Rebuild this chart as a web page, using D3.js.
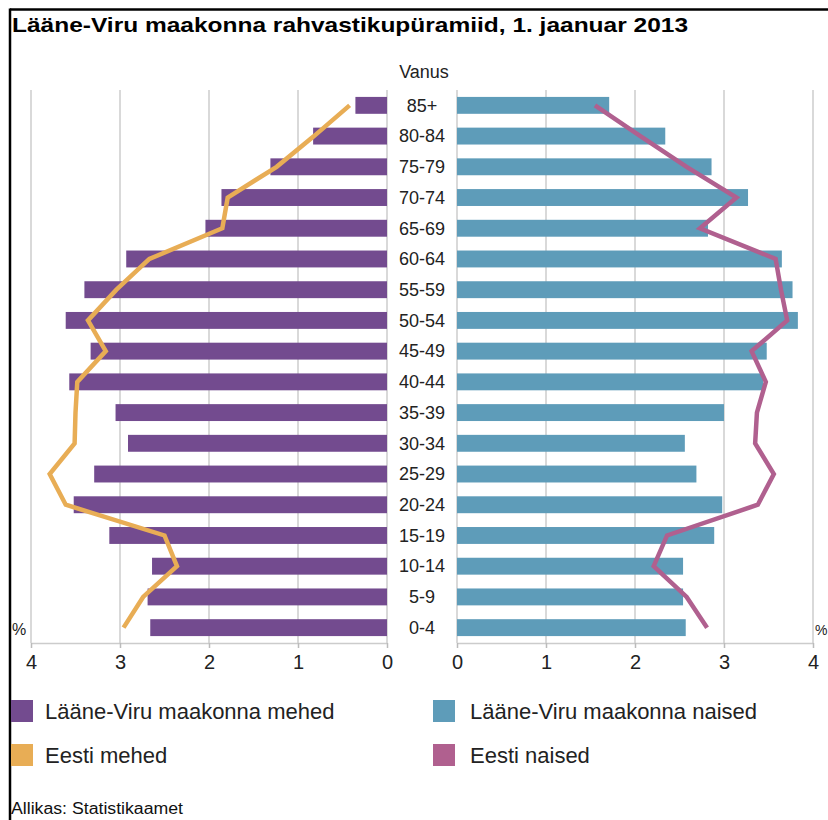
<!DOCTYPE html>
<html><head><meta charset="utf-8">
<script src="https://cdn.jsdelivr.net/npm/d3@7"></script>
<style>body{margin:0;background:#fff}svg{display:block;font-family:"Liberation Sans",Arial,sans-serif}</style>
</head><body>
<script>
const ages = ["0-4","5-9","10-14","15-19","20-24","25-29","30-34","35-39","40-44","45-49","50-54","55-59","60-64","65-69","70-74","75-79","80-84","85+"];
const menCounty   = [2.66,2.69,2.64,3.12,3.52,3.29,2.91,3.05,3.57,3.33,3.61,3.40,2.93,2.04,1.86,1.31,0.83,0.355];
const menEstonia  = [2.96,2.74,2.36,2.50,3.61,3.79,3.51,3.50,3.48,3.16,3.36,3.04,2.67,1.85,1.79,1.24,0.82,0.42];
const womenCounty = [2.57,2.54,2.54,2.89,2.98,2.69,2.56,3.00,3.44,3.48,3.83,3.77,3.65,2.82,3.27,2.86,2.34,1.71];
const womenEstonia= [2.81,2.58,2.21,2.36,3.38,3.56,3.35,3.37,3.47,3.31,3.71,3.64,3.58,2.73,3.14,2.58,2.06,1.55];
const ticks = [0,1,2,3,4];
const title = "Lääne-Viru maakonna rahvastikupüramiid, 1. jaanuar 2013";
const legendLabels = ["Lääne-Viru maakonna mehed","Lääne-Viru maakonna naised","Eesti mehed","Eesti naised"];
const colors = {men:"#734b8f", women:"#5e9cb9", menE:"#e8ad55", womenE:"#b0608f"};

const W=828,H=820;
const svg=d3.select("body").append("svg").attr("width",W).attr("height",H);

// frame
svg.append("line").attr("x1",10).attr("x2",W).attr("y1",9.5).attr("y2",9.5).attr("stroke","#000").attr("stroke-width",2.5);
svg.append("line").attr("x1",10).attr("x2",10).attr("y1",8.5).attr("y2",H).attr("stroke","#000").attr("stroke-width",2.5);

svg.append("text").attr("x",12).attr("y",32).attr("font-size",21).attr("font-weight","bold")
  .attr("textLength",676).attr("lengthAdjust","spacingAndGlyphs").text(title);

const plotTop=90,plotBottom=643;
const xL=d3.scaleLinear().domain([0,4]).range([387,31]);
const xR=d3.scaleLinear().domain([0,4]).range([457,813]);
const y=d3.scaleBand().domain(ages.slice().reverse()).range([plotTop,plotBottom]).paddingInner(0.45).paddingOuter(0.225);
const yc=a=>y(a)+y.bandwidth()/2;

// grid
[xL,xR].forEach(x=>{
  svg.append("g").selectAll("line").data(ticks).join("line")
    .attr("x1",d=>x(d)).attr("x2",d=>x(d)).attr("y1",plotTop).attr("y2",plotBottom)
    .attr("stroke","#cccccc").attr("stroke-width",1.5);
});

// axes
[xL,xR].forEach(x=>{
  const g=svg.append("g").attr("transform",`translate(0,${plotBottom})`)
    .call(d3.axisBottom(x).tickValues(ticks).tickFormat(d3.format("d")).tickSize(5).tickSizeOuter(0).tickPadding(7));
  g.select(".domain").attr("stroke","#cccccc").attr("stroke-width",1.5);
  g.selectAll(".tick line").attr("stroke","#bbbbbb").attr("stroke-width",1.5);
  g.selectAll("text").attr("font-size",20).attr("fill","#222").attr("font-family","'Liberation Sans',Arial,sans-serif");
});

// bars
svg.append("g").selectAll("rect").data(ages).join("rect")
  .attr("x",(d,i)=>xL(menCounty[i])).attr("y",d=>y(d))
  .attr("width",(d,i)=>xL(0)-xL(menCounty[i])).attr("height",y.bandwidth())
  .attr("fill",colors.men);
svg.append("g").selectAll("rect").data(ages).join("rect")
  .attr("x",xR(0)).attr("y",d=>y(d))
  .attr("width",(d,i)=>xR(womenCounty[i])-xR(0)).attr("height",y.bandwidth())
  .attr("fill",colors.women);

// lines
const lineL=d3.line().x((d,i)=>xL(d)).y((d,i)=>yc(ages[i]));
const lineR=d3.line().x((d,i)=>xR(d)).y((d,i)=>yc(ages[i]));
svg.append("path").attr("d",lineL(menEstonia)).attr("fill","none").attr("stroke",colors.menE).attr("stroke-width",4.5);
svg.append("path").attr("d",lineR(womenEstonia)).attr("fill","none").attr("stroke",colors.womenE).attr("stroke-width",4.5);

// age labels
svg.append("g").selectAll("text").data(ages).join("text")
  .attr("x",422).attr("y",d=>yc(d)).attr("dy","0.35em").attr("text-anchor","middle")
  .attr("font-size",18).attr("fill","#222").text(d=>d);
svg.append("text").attr("x",424).attr("y",72).attr("dy","0.35em").attr("text-anchor","middle").attr("font-size",18).attr("fill","#222").text("Vanus");

// percent labels
svg.append("text").attr("x",12).attr("y",635).attr("font-size",16).attr("fill","#222").text("%");
svg.append("text").attr("x",815).attr("y",635).attr("font-size",14).attr("fill","#222").text("%");

// legend
const leg=[{c:colors.men,x:11,tx:45,y:700},{c:colors.women,x:433,tx:470,y:700},{c:colors.menE,x:11,tx:45,y:744},{c:colors.womenE,x:433,tx:470,y:744}];
leg.forEach((l,i)=>{
  svg.append("rect").attr("x",l.x).attr("y",l.y).attr("width",22).attr("height",22).attr("fill",l.c);
  svg.append("text").attr("x",l.tx).attr("y",l.y+11).attr("dy","0.35em").attr("font-size",22).attr("fill","#222").text(legendLabels[i]);
});

svg.append("text").attr("x",11).attr("y",814).attr("font-size",16).attr("fill","#111")
  .attr("textLength",172).attr("lengthAdjust","spacingAndGlyphs").text("Allikas: Statistikaamet");
</script>
</body></html>
